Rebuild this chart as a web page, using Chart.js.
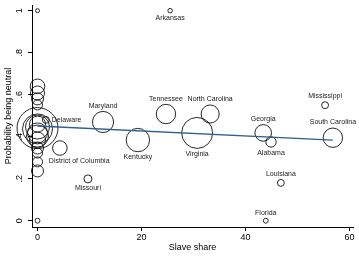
<!DOCTYPE html>
<html>
<head>
<meta charset="utf-8">
<script src="https://cdn.jsdelivr.net/npm/chart.js@4.4.0/dist/chart.umd.min.js"></script>
<style>
  html, body { margin: 0; padding: 0; background: #fff; }
</style>
</head>
<body>
<canvas id="chart" width="359" height="259"></canvas>
<script>
// ─────────────────────────────────────────────
//  Data
// ─────────────────────────────────────────────
// slave states, labelled
const states       = ['Arkansas', 'Maryland', 'Tennessee', 'North Carolina', 'Virginia', 'Kentucky',
                      'Georgia', 'Alabama', 'South Carolina', 'Mississippi', 'Louisiana', 'Florida',
                      'Missouri', 'District of Columbia', 'Delaware'];
const stateShare   = [25.5, 12.6, 24.7, 33.2, 30.7, 19.3, 43.4, 44.9, 56.8, 55.3, 46.8, 43.9, 9.7, 4.3, 1.6];
const stateNeutral = [1.0, 0.47, 0.508, 0.508, 0.418, 0.384, 0.418, 0.375, 0.395, 0.55, 0.18, 0.0, 0.199, 0.346, 0.48];
const stateWeight  = [5, 112, 94, 82, 240, 137, 69, 27, 94, 12, 12, 6, 16, 53, 12];

// free states (zero slave share), unlabelled
const freeShare    = [0, 0, 0, 0, 0, 0, 0, 0, 0, 0, 0, 0, 0, 0, 0, 0, 0];
const freeNeutral  = [1.0, 0.64, 0.608, 0.58, 0.551, 0.46, 0.446, 0.437, 0.441, 0.418, 0.403, 0.384, 0.346, 0.322, 0.28, 0.237, 0.0];
const freeWeight   = [4, 53, 49, 36, 25, 64, 144, 225, 420, 100, 121, 64, 36, 25, 25, 36, 6];

// linear fit
const fitShare     = [0, 56.8];
const fitNeutral   = [0.451, 0.384];

const xTicks = [0, 20, 40, 60];
const yTicks = [0, 0.2, 0.4, 0.6, 0.8, 1];

// ─────────────────────────────────────────────
//  Chart
// ─────────────────────────────────────────────
const FONT = "'Liberation Sans', Arial, sans-serif";

const labelPos = {
  'Arkansas': 6, 'Maryland': 12, 'Tennessee': 12, 'North Carolina': 12, 'Virginia': 6,
  'Kentucky': 6, 'Georgia': 12, 'Alabama': 6, 'South Carolina': 12, 'Mississippi': 12,
  'Louisiana': 12, 'Florida': 12, 'Missouri': 6, 'District of Columbia': 4, 'Delaware': 3,
};

const fmtY = v => {
  const s = String(Math.round(v * 10) / 10);
  return s.replace(/^0\./, '.');
};

const pointLabels = {
  id: 'pointLabels',
  afterDraw(chart) {
    const ctx  = chart.ctx;
    const meta = chart.getDatasetMeta(1);
    ctx.save();
    ctx.font = `7px ${FONT}`;
    ctx.fillStyle = '#222';
    ctx.textBaseline = 'middle';
    meta.data.forEach((el, i) => {
      const name = states[i];
      const r    = Math.sqrt(stateWeight[i]);
      let x = el.x, y = el.y;
      switch (labelPos[name]) {
        case 12: ctx.textAlign = 'center'; y -= r + 5.5; break;
        case 6:  ctx.textAlign = 'center'; y += r + 5.5; break;
        case 3:  ctx.textAlign = 'left';   x += r + 2.5; break;
        case 4:  ctx.textAlign = 'left';   x -= 11; y += 13; break;
      }
      ctx.fillText(name, x, y);
    });

    // rotated y tick labels, Stata style
    const ys = chart.scales.y;
    ctx.font = `9px ${FONT}`;
    ctx.fillStyle = '#000';
    ctx.textAlign = 'center';
    ys.ticks.forEach(t => {
      const py = ys.getPixelForValue(t.value);
      ctx.save();
      ctx.translate(ys.right - 12, py);
      ctx.rotate(-Math.PI / 2);
      ctx.fillText(fmtY(t.value), 0, 0);
      ctx.restore();
    });
    ctx.restore();
  },
};

const axisBase = {
  type: 'linear',
  grid:   { drawOnChartArea: false, drawTicks: true, tickLength: 4, color: '#000', lineWidth: 1 },
  border: { display: true, color: '#000', width: 1 },
};

new Chart(document.getElementById('chart'), {
  data: {
    datasets: [
      {
        type: 'line',
        data: fitShare.map((x, i) => ({ x, y: fitNeutral[i] })),
        borderColor: '#2e5f8e',
        borderWidth: 1.3,
        pointRadius: 0,
        order: -1,
      },
      {
        type: 'bubble',
        data: stateShare.map((x, i) => ({ x, y: stateNeutral[i], r: Math.sqrt(stateWeight[i]) })),
        borderColor: '#111',
        borderWidth: 0.9,
        backgroundColor: 'rgba(0,0,0,0)',
      },
      {
        type: 'bubble',
        data: freeShare.map((x, i) => ({ x, y: freeNeutral[i], r: Math.sqrt(freeWeight[i]) })),
        borderColor: '#111',
        borderWidth: 0.9,
        backgroundColor: 'rgba(0,0,0,0)',
      },
    ],
  },
  options: {
    responsive: false,
    animation: false,
    events: [],
    clip: false,
    layout: { autoPadding: false, padding: { top: 5, right: 6, left: 0, bottom: 0 } },
    plugins: { legend: { display: false }, tooltip: { enabled: false } },
    scales: {
      x: {
        ...axisBase,
        min: -1.06,
        max: 60.67,
        afterBuildTicks: s => { s.ticks = xTicks.map(value => ({ value })); },
        afterFit: s => { s.height = 32; s.paddingLeft = 0; s.paddingRight = 0; },
        ticks: { color: '#000', font: { family: FONT, size: 9 }, padding: 1, maxRotation: 0, autoSkip: false },
        title: { display: true, text: 'Slave share', color: '#000', font: { family: FONT, size: 9 }, padding: { top: 0, bottom: 5.6 } },
      },
      y: {
        ...axisBase,
        min: -0.03,
        max: 1.027,
        afterBuildTicks: s => { s.ticks = yTicks.map(value => ({ value })); },
        afterFit: s => { s.width = 32; s.paddingTop = 0; s.paddingBottom = 0; },
        ticks: { color: 'rgba(0,0,0,0)', font: { family: FONT, size: 9 }, autoSkip: false },
        title: { display: true, text: 'Probability being neutral', color: '#000', font: { family: FONT, size: 9 }, padding: { top: 3.6, bottom: 0 } },
      },
    },
  },
  plugins: [pointLabels],
});
</script>
</body>
</html>
